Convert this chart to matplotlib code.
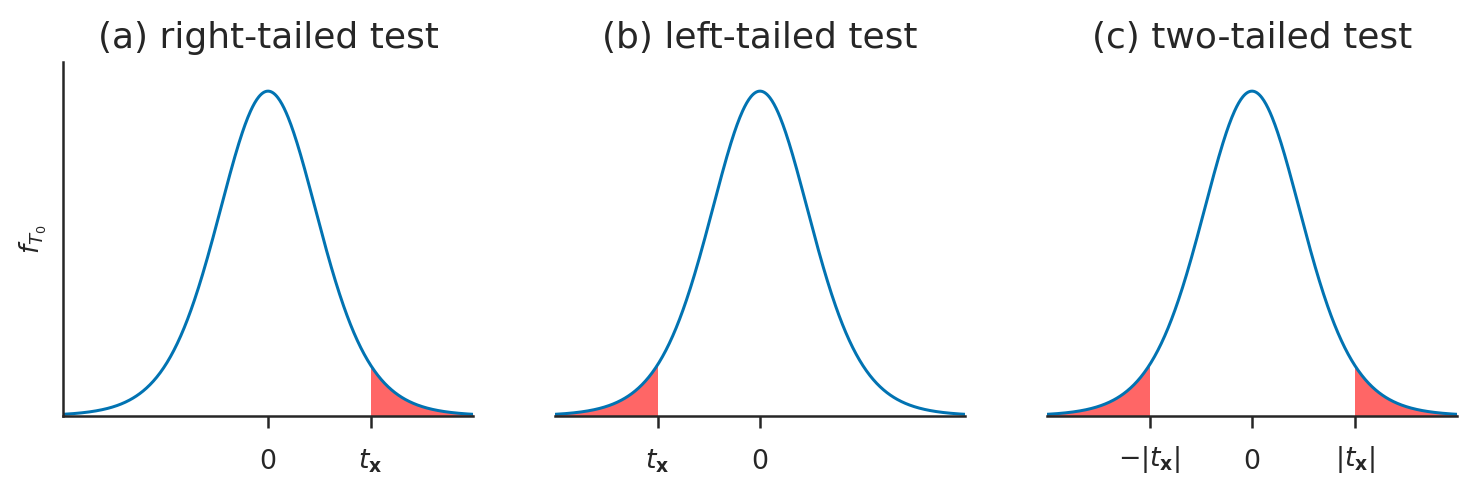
import math
import numpy as np
import matplotlib
matplotlib.use("Agg")
import matplotlib.pyplot as plt
import seaborn as sns

sns.set_theme(style="ticks")
plt.rcParams['font.family'] = ['DejaVu Sans']

# ---- data ----
df_t = 10
x_lim = (-4.0, 4.0)
t_x = 2.0
titles = ["(a) right-tailed test", "(b) left-tailed test", "(c) two-tailed test"]
tick_pos = [[0.0, t_x], [-t_x, 0.0], [-t_x, 0.0, t_x]]
tick_labels = [["0", r"$t_{\mathbf{x}}$"],
               [r"$t_{\mathbf{x}}$", "0"],
               [r"$-|t_{\mathbf{x}}|$", "0", r"$|t_{\mathbf{x}}|$"]]
# shaded tail regions per panel
tails = [[(t_x, 4.0)], [(-4.0, -t_x)], [(-4.0, -t_x), (t_x, 4.0)]]
y_top = 0.424
ylabel = r"$f_{T_0}$"

line_color = "#0173b2"
text_color = "#262626"


def t_pdf(x, nu):
    c = math.gamma((nu + 1) / 2) / (math.sqrt(nu * math.pi) * math.gamma(nu / 2))
    return c * (1 + x ** 2 / nu) ** (-(nu + 1) / 2)


W, H, DPI = 1477, 497, 144
fig = plt.figure(figsize=(W / DPI, H / DPI), dpi=DPI)
lefts = [63, 555, 1047]
ax_w, ax_bottom, ax_top = 410, 416, 62

xs = np.linspace(x_lim[0], x_lim[1], 600)
ys = t_pdf(xs, df_t)

for i, left in enumerate(lefts):
    ax = fig.add_axes([left / W, 1 - ax_bottom / H, ax_w / W, (ax_bottom - ax_top) / H])
    for (a, b) in tails[i]:
        xf = np.linspace(a, b, 200)
        ax.fill_between(xf, t_pdf(xf, df_t), 0, color="red", alpha=0.6, lw=0)
    ax.plot(xs, ys, color=line_color, lw=1.5)
    ax.set_xlim(*x_lim)
    ax.set_ylim(0, y_top)
    ax.set_yticks([])
    ax.set_xticks(tick_pos[i])
    ax.set_xticklabels(tick_labels[i], fontsize=13.4, color=text_color, va="bottom")
    ax.tick_params(axis="x", length=6, width=1.25, pad=23.5, colors=text_color)
    ax.set_title(titles[i], fontsize=18, color=text_color, pad=7)
    for s in ["top", "right"]:
        ax.spines[s].set_visible(False)
    ax.spines["bottom"].set_color(text_color)
    ax.spines["left"].set_color(text_color)
    ax.spines["bottom"].set_linewidth(1.25)
    ax.spines["left"].set_linewidth(1.25)
    if i == 0:
        ax.set_ylabel(ylabel, fontsize=13, color=text_color, labelpad=7)
    else:
        ax.spines["left"].set_visible(False)

fig.savefig("out.png", dpi=DPI)
